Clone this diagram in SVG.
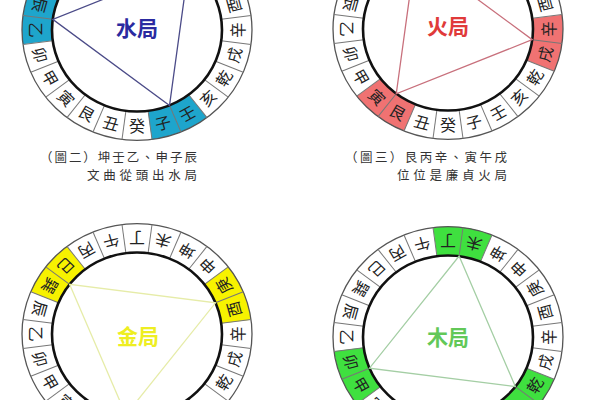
<svg xmlns="http://www.w3.org/2000/svg" xmlns:xlink="http://www.w3.org/1999/xlink" width="600" height="400" viewBox="0 0 600 400">
<style>
.m{font-family:"Noto Sans CJK TC","Noto Sans CJK SC",sans-serif;font-size:16px;fill:#222;text-anchor:middle;dominant-baseline:central}
.hl{fill:none;stroke-width:30;stroke-dasharray:30 90}
.tri{fill:none;stroke-width:1.3}
.lab{font-family:"Noto Sans CJK TC","Noto Sans CJK SC",sans-serif;font-size:21px;font-weight:700;text-anchor:middle;dominant-baseline:central}
.cap{font-family:"Noto Sans CJK TC","Noto Sans CJK SC",sans-serif;font-size:12.5px;fill:#333}
</style>
<defs>
<g id="frame">
<circle r="115" fill="none" stroke="#555" stroke-width="1.3"/>
<g stroke="#777" stroke-width="1">
<line x1="0" y1="85" x2="0" y2="115" transform="rotate(-7.5)"/>
<line x1="0" y1="85" x2="0" y2="115" transform="rotate(7.5)"/>
<line x1="0" y1="85" x2="0" y2="115" transform="rotate(22.5)"/>
<line x1="0" y1="85" x2="0" y2="115" transform="rotate(37.5)"/>
<line x1="0" y1="85" x2="0" y2="115" transform="rotate(52.5)"/>
<line x1="0" y1="85" x2="0" y2="115" transform="rotate(67.5)"/>
<line x1="0" y1="85" x2="0" y2="115" transform="rotate(82.5)"/>
<line x1="0" y1="85" x2="0" y2="115" transform="rotate(97.5)"/>
<line x1="0" y1="85" x2="0" y2="115" transform="rotate(112.5)"/>
<line x1="0" y1="85" x2="0" y2="115" transform="rotate(127.5)"/>
<line x1="0" y1="85" x2="0" y2="115" transform="rotate(142.5)"/>
<line x1="0" y1="85" x2="0" y2="115" transform="rotate(157.5)"/>
<line x1="0" y1="85" x2="0" y2="115" transform="rotate(172.5)"/>
<line x1="0" y1="85" x2="0" y2="115" transform="rotate(187.5)"/>
<line x1="0" y1="85" x2="0" y2="115" transform="rotate(202.5)"/>
<line x1="0" y1="85" x2="0" y2="115" transform="rotate(217.5)"/>
<line x1="0" y1="85" x2="0" y2="115" transform="rotate(232.5)"/>
<line x1="0" y1="85" x2="0" y2="115" transform="rotate(247.5)"/>
<line x1="0" y1="85" x2="0" y2="115" transform="rotate(262.5)"/>
<line x1="0" y1="85" x2="0" y2="115" transform="rotate(277.5)"/>
<line x1="0" y1="85" x2="0" y2="115" transform="rotate(292.5)"/>
<line x1="0" y1="85" x2="0" y2="115" transform="rotate(307.5)"/>
<line x1="0" y1="85" x2="0" y2="115" transform="rotate(322.5)"/>
<line x1="0" y1="85" x2="0" y2="115" transform="rotate(337.5)"/>
</g>
<circle r="85" fill="none" stroke="#111" stroke-width="2.6"/>
</g>
</defs>

<!-- Water chart (top part lies outside the picture) -->
<g id="chart-water" transform="translate(137 30) scale(1 0.96)">
<circle class="hl" r="100" pathLength="360" stroke="#1ea5cc" stroke-dashoffset="-52.5"/>
<use href="#frame"/>
<g class="m">
<text transform="rotate(-15) translate(0 100)">子</text><text transform="rotate(0) translate(0 100)">癸</text><text transform="rotate(15) translate(0 100)">丑</text><text transform="rotate(30) translate(0 100)">艮</text><text transform="rotate(45) translate(0 100)">寅</text><text transform="rotate(60) translate(0 100)">甲</text><text transform="rotate(75) translate(0 100)">卯</text><text transform="rotate(90) translate(0 100)">乙</text><text transform="rotate(105) translate(0 100)">辰</text><text transform="rotate(255) translate(0 100)">酉</text><text transform="rotate(270) translate(0 100)">辛</text><text transform="rotate(285) translate(0 100)">戌</text><text transform="rotate(300) translate(0 100)">乾</text><text transform="rotate(315) translate(0 100)">亥</text><text transform="rotate(330) translate(0 100)">壬</text>
</g>
<g id="connectors-water"><polygon class="tri" stroke="#4b4b88" points="32.53,78.53 -84.27,-11.10 51.74,-67.43"/></g>
</g>
<text class="lab" x="137" y="27" fill="#2a2aa0">水局</text>

<!-- Fire chart -->
<g id="chart-fire" transform="translate(448 29) scale(1 0.96)">
<circle class="hl" r="100" pathLength="360" stroke="#f07272" stroke-dashoffset="-112.5"/>
<use href="#frame"/>
<g class="m">
<text transform="rotate(-15) translate(0 100)">子</text><text transform="rotate(0) translate(0 100)">癸</text><text transform="rotate(15) translate(0 100)">丑</text><text transform="rotate(30) translate(0 100)">艮</text><text transform="rotate(45) translate(0 100)">寅</text><text transform="rotate(60) translate(0 100)">甲</text><text transform="rotate(75) translate(0 100)">卯</text><text transform="rotate(90) translate(0 100)">乙</text><text transform="rotate(105) translate(0 100)">辰</text><text transform="rotate(255) translate(0 100)">酉</text><text transform="rotate(270) translate(0 100)">辛</text><text transform="rotate(285) translate(0 100)">戌</text><text transform="rotate(300) translate(0 100)">乾</text><text transform="rotate(315) translate(0 100)">亥</text><text transform="rotate(330) translate(0 100)">壬</text>
</g>
<g id="connectors-fire"><polygon class="tri" stroke="#c8707c" points="-51.74,67.43 -32.53,-78.53 84.27,11.10"/></g>
</g>
<text class="lab" x="448" y="25" fill="#e03a3a">火局</text>

<!-- Metal chart (bottom part lies outside the picture) -->
<g id="chart-metal" transform="translate(137 334) scale(1 0.96)">
<circle class="hl" r="100" pathLength="360" stroke="#f7f200" stroke-dashoffset="-82.5"/>
<use href="#frame"/>
<g class="m">
<text transform="rotate(45) translate(0 100)">寅</text><text transform="rotate(60) translate(0 100)">甲</text><text transform="rotate(75) translate(0 100)">卯</text><text transform="rotate(90) translate(0 100)">乙</text><text transform="rotate(105) translate(0 100)">辰</text><text transform="rotate(120) translate(0 100)">巽</text><text transform="rotate(135) translate(0 100)">巳</text><text transform="rotate(150) translate(0 100)">丙</text><text transform="rotate(165) translate(0 100)">午</text><text transform="rotate(180) translate(0 100)">丁</text><text transform="rotate(195) translate(0 100)">未</text><text transform="rotate(210) translate(0 100)">坤</text><text transform="rotate(225) translate(0 100)">申</text><text transform="rotate(240) translate(0 100)">庚</text><text transform="rotate(255) translate(0 100)">酉</text><text transform="rotate(270) translate(0 100)">辛</text><text transform="rotate(285) translate(0 100)">戌</text><text transform="rotate(300) translate(0 100)">乾</text>
</g>
<g id="connectors-metal"><polygon class="tri" stroke="#e6eca8" stroke-width="1.6" points="-11.10,84.27 -67.43,-51.74 78.53,-32.53"/></g>
</g>
<text class="lab" x="138" y="335" fill="#eeee22">金局</text>

<!-- Wood chart -->
<g id="chart-wood" transform="translate(448 337) scale(1 0.96)">
<circle class="hl" r="100" pathLength="360" stroke="#3fe03f" stroke-dashoffset="-22.5"/>
<use href="#frame"/>
<g class="m">
<text transform="rotate(45) translate(0 100)">寅</text><text transform="rotate(60) translate(0 100)">甲</text><text transform="rotate(75) translate(0 100)">卯</text><text transform="rotate(90) translate(0 100)">乙</text><text transform="rotate(105) translate(0 100)">辰</text><text transform="rotate(120) translate(0 100)">巽</text><text transform="rotate(135) translate(0 100)">巳</text><text transform="rotate(150) translate(0 100)">丙</text><text transform="rotate(165) translate(0 100)">午</text><text transform="rotate(180) translate(0 100)">丁</text><text transform="rotate(195) translate(0 100)">未</text><text transform="rotate(210) translate(0 100)">坤</text><text transform="rotate(225) translate(0 100)">申</text><text transform="rotate(240) translate(0 100)">庚</text><text transform="rotate(255) translate(0 100)">酉</text><text transform="rotate(270) translate(0 100)">辛</text><text transform="rotate(285) translate(0 100)">戌</text><text transform="rotate(300) translate(0 100)">乾</text>
</g>
<g id="connectors-wood"><polygon class="tri" stroke="#a4cea4" points="67.43,51.74 -78.53,32.53 11.10,-84.27"/></g>
</g>
<text class="lab" x="448" y="336" fill="#62c858">木局</text>

<!-- Captions -->
<g id="caption-2" class="cap">
<text x="40" y="162" textLength="157" lengthAdjust="spacing">（圖二）坤壬乙、申子辰</text>
<text x="87" y="180" textLength="110" lengthAdjust="spacing">文曲從頭出水局</text>
</g>
<g id="caption-3" class="cap">
<text x="345" y="162" textLength="162" lengthAdjust="spacing">（圖三）艮丙辛、寅午戌</text>
<text x="397" y="180" textLength="110" lengthAdjust="spacing">位位是廉貞火局</text>
</g>
</svg>
